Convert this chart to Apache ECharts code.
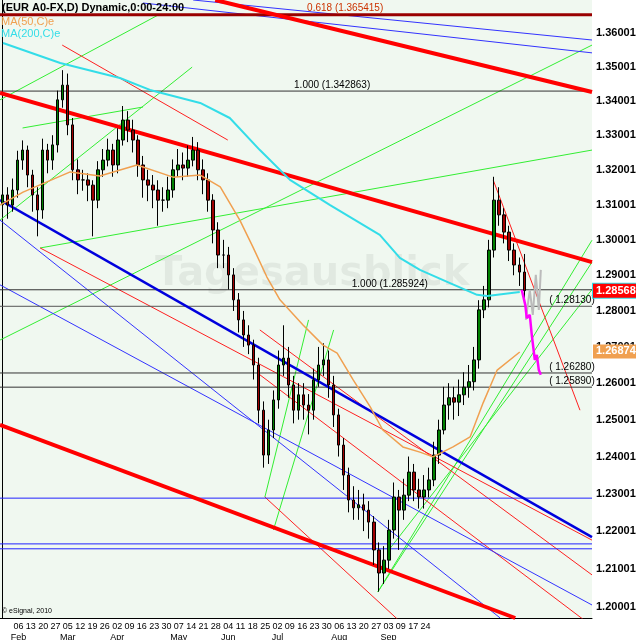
<!DOCTYPE html>
<html><head><meta charset="utf-8">
<script src="https://cdn.jsdelivr.net/npm/echarts@6/dist/echarts.min.js"></script>
<style>html,body{margin:0;padding:0;background:#fff}#c{width:636px;height:640px}</style>
</head><body><div id="c"></div>
<script>
// ---- data (EUR/USD daily, Feb–Sep 2010) ----
const closes = [1.3128,1.3099,1.3142,1.3228,1.3257,1.3185,1.3128,1.3085,1.3257,1.3228,
1.3272,1.3403,1.3446,1.3330,1.3200,1.3171,1.3171,1.3156,1.3113,1.3200,
1.3228,1.3257,1.3214,1.3286,1.3344,1.3315,1.3286,1.3214,1.3171,1.3156,
1.3142,1.3113,1.3113,1.3142,1.3200,1.3214,1.3205,1.3228,1.3257,1.3200,
1.3171,1.3113,1.3028,1.2957,1.2957,1.2901,1.2831,1.2775,1.2733,1.2705,
1.2650,1.2526,1.2404,1.2472,1.2554,1.2650,1.2669,1.2595,1.2526,1.2568,
1.2540,1.2526,1.2609,1.2650,1.2664,1.2595,1.2513,1.2431,1.2350,1.2283,
1.2262,1.2270,1.2256,1.2224,1.2150,1.2089,1.2123,1.2203,1.2291,1.2256,
1.2296,1.2358,1.2310,1.2291,1.2310,1.2337,1.2404,1.2472,1.2540,1.2560,
1.2548,1.2568,1.2589,1.2604,1.2664,1.2803,1.2831,1.2971,1.3113,1.3071,
1.3022,1.2971,1.2929,1.2909,1.28568];
const firstOpen = 1.3100;
const highs = [1.3160,1.3150,1.3175,1.3255,1.3285,1.3270,1.3200,1.3150,1.3290,1.3275,
1.3300,1.3430,1.3490,1.3480,1.3350,1.3230,1.3200,1.3190,1.3170,1.3225,
1.3260,1.3290,1.3275,1.3320,1.3385,1.3370,1.3345,1.3300,1.3240,1.3200,
1.3185,1.3170,1.3150,1.3180,1.3230,1.3260,1.3250,1.3270,1.3295,1.3280,
1.3230,1.3190,1.3130,1.3050,1.3000,1.2980,1.2920,1.2850,1.2800,1.2760,
1.2720,1.2670,1.2550,1.2500,1.2580,1.2690,1.2760,1.2700,1.2620,1.2600,
1.2600,1.2570,1.2640,1.2700,1.2710,1.2690,1.2620,1.2530,1.2450,1.2370,
1.2320,1.2310,1.2300,1.2280,1.2240,1.2170,1.2160,1.2230,1.2330,1.2310,
1.2340,1.2400,1.2380,1.2340,1.2350,1.2370,1.2440,1.2500,1.2590,1.2600,
1.2590,1.2610,1.2630,1.2650,1.2700,1.2830,1.2870,1.3000,1.3180,1.3150,
1.3090,1.3040,1.2990,1.2950,1.2960];
const lows = [1.3075,1.3060,1.3080,1.3120,1.3200,1.3150,1.3080,1.3010,1.3060,1.3190,
1.3200,1.3250,1.3380,1.3300,1.3170,1.3130,1.3140,1.3110,1.3010,1.3090,
1.3180,1.3210,1.3180,1.3190,1.3270,1.3280,1.3250,1.3180,1.3120,1.3110,
1.3090,1.3040,1.3080,1.3090,1.3120,1.3180,1.3170,1.3180,1.3210,1.3170,
1.3130,1.3080,1.2990,1.2920,1.2920,1.2860,1.2800,1.2740,1.2700,1.2680,
1.2610,1.2490,1.2370,1.2380,1.2450,1.2530,1.2620,1.2560,1.2490,1.2500,
1.2500,1.2460,1.2500,1.2590,1.2620,1.2560,1.2480,1.2400,1.2310,1.2250,
1.2230,1.2230,1.2200,1.2180,1.2110,1.2040,1.2060,1.2100,1.2180,1.2150,
1.2230,1.2280,1.2280,1.2260,1.2260,1.2290,1.2320,1.2380,1.2460,1.2500,
1.2500,1.2510,1.2540,1.2560,1.2580,1.2640,1.2780,1.2810,1.2950,1.3040,
1.2990,1.2940,1.2900,1.2870,1.2830];
const totalSlots = 118;
const ma50 = [[-0.5,1.3099],[4.1,1.3136],[13.5,1.3194],[19.4,1.3182],[26.8,1.3214],[34,1.3179],[39.4,1.3185],[43.4,1.3151],[47.3,1.3056],[49.9,1.2980],[52.7,1.2895],[55.3,1.2831],[59.9,1.2761],[63.9,1.2705],[66.7,1.2683],[69.9,1.2609],[73.3,1.2535],[75.8,1.2472],[79.8,1.2426],[83.2,1.2412],[85.8,1.2399],[89.8,1.2426],[93.2,1.2453],[95.8,1.2546],[98.6,1.2636],[103.1,1.2686]];
const ma200 = [[0.1,1.3570],[11.5,1.3511],[23.4,1.3467],[29.4,1.3432],[39.4,1.3394],[45.3,1.3350],[51.3,1.3257],[57.3,1.3171],[65.3,1.3099],[75.2,1.3014],[79.2,1.2949],[83.2,1.2915],[89.2,1.2878],[94.6,1.2845],[96.6,1.2842],[103.1,1.2853]];
const projMagenta = [[103.5,1.2859],[104.2,1.2817],[104.5,1.2780],[105.1,1.2789],[105.5,1.2733],[106.1,1.2664],[106.5,1.2678],[106.9,1.2636],[107.3,1.2623]];
const projGray = [[104.3,1.2775],[105.1,1.2859],[105.7,1.2789],[106.3,1.2901],[106.9,1.2803],[107.3,1.2915]];
const redThick = [[[-0.5,1.3423],[117.5,1.2937]],[[42.4,1.3698],[117.5,1.3426]],[[-0.5,1.2486],[102.2,1.1971]]];
const blueThick = [[[-0.5,1.3113],[117.5,1.2184]]];
const blueThin = [[[28.0,1.3689],[117.5,1.3541]],[[38,1.3698],[117.5,1.3579]],[[-0.5,1.3056],[99.2,1.1971]],[[-0.5,1.2873],[117.5,1.2005]]];
const redThin = [[[11.9,1.3564],[44.9,1.3286]],[[7.5,1.2977],[117.5,1.2176]],[[52.3,1.2291],[83.2,1.1914]],[[51.3,1.2747],[117.5,1.2084]],[[51.3,1.2623],[117.5,1.1950]],[[97.8,1.3171],[115.1,1.2526]]];
const greenThin = [[[-0.5,1.3403],[31,1.3653]],[[4,1.3321],[28,1.3382]],[[-0.5,1.3056],[37.8,1.3499]],[[7.5,1.2977],[117.5,1.3257]],[[-0.5,1.2719],[117.5,1.3564]],[[74.8,1.2039],[117.5,1.2999]],[[74.8,1.2039],[117.5,1.2937]],[[52.3,1.2291],[61,1.2775]],[[54,1.2203],[66,1.2747]],[[77,1.2150],[117.5,1.2860]]];
const blueLevels = [1.2288,1.2166,1.2153];
const fibLevels = [{v:1.365415,t:'0.618 (1.365415)',x:68.3,c:'#990000',w:3,tc:'#cc3300'},{v:1.342863,t:'1.000 (1.342863)',x:65.7,c:'#333',w:1,tc:'#000'},{v:1.285924,t:'1.000 (1.285924)',x:77.2,c:'#333',w:1,tc:'#000'},{v:1.28130,t:'( 1.28130)',x:113.5,c:'#555',w:1,tc:'#000'},{v:1.26280,t:'( 1.26280)',x:113.5,c:'#333',w:1,tc:'#000'},{v:1.25890,t:'( 1.25890)',x:113.5,c:'#333',w:1,tc:'#000'}];
const yTicks = [1.200013,1.210013,1.220013,1.230013,1.240013,1.250013,1.260013,1.270013,1.280013,1.290013,1.300013,1.310013,1.320013,1.330013,1.340013,1.350013,1.360013];
const lastPrice = 1.28568, lastMA50 = 1.26874;
const weekLabels = ['06','13','20','27','05','12','19','26','02','09','16','23','30','07','14','21','28','04','11','18','25','02','09','16','23','30','06','13','20','27','03','09','17','24'];
const months = ['Feb','Mar','Apr','May','Jun','Jul','Aug','Sep'];
const monthStartWeek = [0,4,8,13,17,21,26,30];
const weekSlots = 48;
// ---- build ----
const L = Math.log;
const X0 = -0.5, X1 = totalSlots - 0.5;
const candles = closes.map((c,i)=>{const o=i?closes[i-1]:firstOpen;return [L(o),L(c),L(lows[i]),L(highs[i])];});
const pts = a=>a.map(p=>[p[0],L(p[1])]);
const series = [{type:'candlestick',xAxisIndex:0,data:candles,barWidth:3,z:5,
  itemStyle:{color:'#008000',color0:'#a00000',borderColor:'#000',borderColor0:'#000',borderWidth:1}}];
function addLine(data,color,width,z){series.push({type:'line',xAxisIndex:1,data:data,symbol:'none',silent:true,z:z,lineStyle:{color:color,width:width}});}
function addLines(list,color,width,z){list.forEach(seg=>addLine(pts(seg),color,width,z));}
addLines(greenThin,'#33ee33',1,3);
addLines(redThin,'#ff2020',1,3);
addLines(blueThin,'#3333ff',1,3);
blueLevels.forEach(v=>addLine([[X0,L(v)],[X1,L(v)]],'#2222ff',1,3));
fibLevels.forEach(f=>addLine([[X0,L(f.v)],[X1,L(f.v)]],f.c,f.w,4));
addLines(blueThick,'#0000dd',2.5,4);
addLines(redThick,'#ff0000',4,4);
addLine(pts(ma200),'#33dde8',2,6);
addLine(pts(ma50),'#f0a050',1.5,6);
addLine(pts(projGray),'#bbbbbb',2,6);
addLine(pts(projMagenta),'#ff00ff',2.5,7);
// labels as markPoints
const lblFont = {fontFamily:'Liberation Sans',fontSize:11,fontWeight:'bold'};
const mp = [];
fibLevels.forEach(f=>mp.push({coord:[f.x,L(f.v)],value:f.t,label:{show:true,position:'top',distance:1,formatter:'{c}',color:f.tc,fontSize:10,fontFamily:'Liberation Sans'}}));
yTicks.forEach(v=>mp.push({coord:[X1,L(v)],value:v.toFixed(6),label:Object.assign({show:true,position:'right',distance:4,formatter:'{c}',color:'#000'},lblFont)}));
mp.push({coord:[X1,L(lastPrice)],value:lastPrice.toFixed(5),label:Object.assign({show:true,position:'right',distance:1,formatter:'{c}',color:'#fff',backgroundColor:'#ff0000',borderColor:'#33dde8',borderWidth:1,padding:[2,2,1,3]},lblFont)});
mp.push({coord:[X1,L(lastMA50)],value:lastMA50.toFixed(5),label:Object.assign({show:true,position:'right',distance:1,formatter:'{c}',color:'#fff',backgroundColor:'#f0a050',padding:[2,3,1,3]},lblFont)});
series.push({type:'line',xAxisIndex:1,data:[[-5,L(1.3)]],symbol:'none',lineStyle:{opacity:0},z:8,
  markPoint:{symbol:'circle',symbolSize:0,animation:false,silent:true,data:mp}});
const weekData = Array.from({length:weekSlots},(_,i)=>String(i));
const option = {
  animation:false,
  grid:{left:0,top:0,width:592,height:618,show:true,backgroundColor:'#f0f8f0',borderWidth:0,outerBoundsMode:'none',containLabel:false},
  xAxis:[
    {type:'category',data:Array.from({length:totalSlots},(_,i)=>i),show:false,boundaryGap:true},
    {type:'value',min:X0,max:X1,show:false},
    {type:'category',data:weekData,position:'bottom',boundaryGap:true,
      axisLine:{show:true,lineStyle:{color:'#000'}},axisTick:{show:false},
      axisLabel:{interval:0,margin:3,fontSize:9,color:'#000',fontFamily:'Liberation Sans',lineHeight:11,hideOverlap:false,
        formatter:(v)=>{const i=+v-1;if(i<0||i>=weekLabels.length)return '';const m=monthStartWeek.indexOf(i);return weekLabels[i]+(m>=0?'\n'+months[m]:'');}}}
  ],
  yAxis:{type:'value',position:'right',min:L(1.1971),max:L(1.3698),
    axisLine:{show:true,lineStyle:{color:'#000'}},axisTick:{show:false},axisLabel:{show:false},splitLine:{show:false}},
  graphic:[
    {type:'text',left:155,top:255,z:1,style:{text:'Tagesausblick',fill:'rgba(0,0,0,0.06)',font:'bold 40px "DejaVu Sans"'}},
    {type:'text',left:2,top:2,z:50,style:{text:'(EUR A0-FX,D) Dynamic,0:00-24:00',fill:'#000',font:'bold 11px "Liberation Sans"'}},
    {type:'text',left:1,top:16,z:50,style:{text:'MA(50,C)e',fill:'#f0a050',font:'11px "Liberation Sans"'}},
    {type:'text',left:1,top:28,z:50,style:{text:'MA(200,C)e',fill:'#33dde8',font:'11px "Liberation Sans"'}},
    {type:'text',left:2,top:608,z:50,style:{text:'© eSignal, 2010',fill:'#000',font:'7px "Liberation Sans"'}}
  ],
  series:series
};
const chart = echarts.init(document.getElementById('c'),null,{renderer:'canvas'});
chart.setOption(option);
</script></body></html>
